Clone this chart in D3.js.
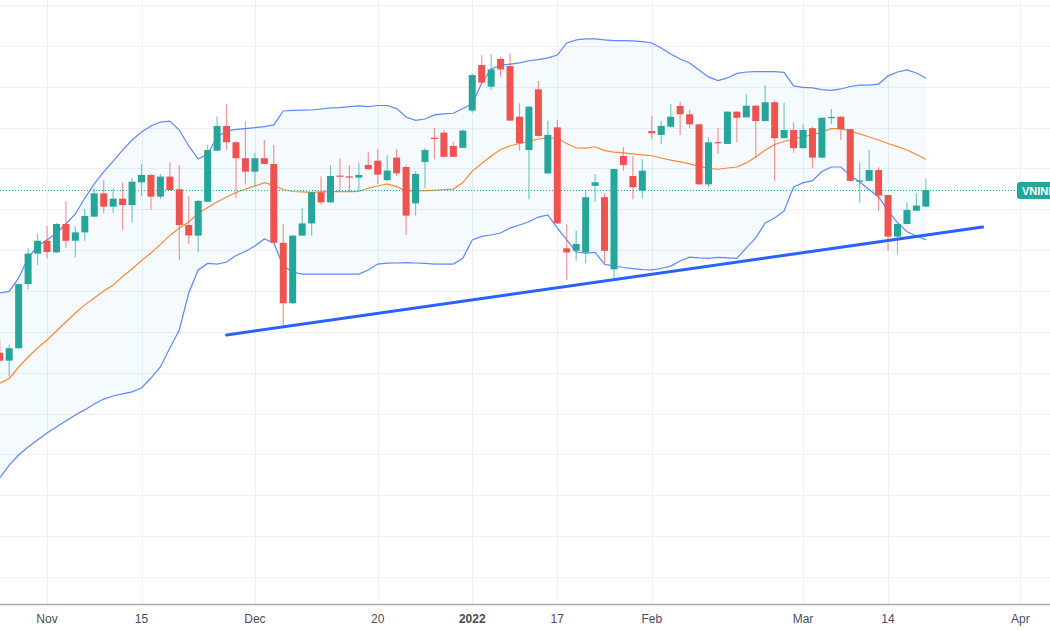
<!DOCTYPE html>
<html>
<head>
<meta charset="utf-8">
<script src="https://cdn.jsdelivr.net/npm/d3@7"></script>
<style>
  html, body { margin: 0; padding: 0; background: #fff; }
  svg { display: block; font-family: "Liberation Sans", Roboto, Arial, sans-serif; }
</style>
</head>
<body>
<svg id="chart" width="1050" height="630"></svg>
<script>
// trading days shown (VNINDEX daily, Oct 25 2021 - Mar 18 2022)
const days = [].concat(
  ['2021-10-25','2021-10-26','2021-10-27','2021-10-28','2021-10-29'],
  ['2021-11-01','2021-11-02','2021-11-03','2021-11-04','2021-11-05','2021-11-08','2021-11-09','2021-11-10','2021-11-11','2021-11-12',
   '2021-11-15','2021-11-16','2021-11-17','2021-11-18','2021-11-19','2021-11-22','2021-11-23','2021-11-24','2021-11-25','2021-11-26',
   '2021-11-29','2021-11-30'],
  ['2021-12-01','2021-12-02','2021-12-03','2021-12-06','2021-12-07','2021-12-08','2021-12-09','2021-12-10','2021-12-13','2021-12-14',
   '2021-12-15','2021-12-16','2021-12-17','2021-12-20','2021-12-21','2021-12-22','2021-12-23','2021-12-24','2021-12-27','2021-12-28',
   '2021-12-29','2021-12-30','2021-12-31'],
  ['2022-01-04','2022-01-05','2022-01-06','2022-01-07','2022-01-10','2022-01-11','2022-01-12','2022-01-13','2022-01-14','2022-01-17',
   '2022-01-18','2022-01-19','2022-01-20','2022-01-21','2022-01-24','2022-01-25','2022-01-26','2022-01-27','2022-01-28'],
  ['2022-02-07','2022-02-08','2022-02-09','2022-02-10','2022-02-11','2022-02-14','2022-02-15','2022-02-16','2022-02-17','2022-02-18',
   '2022-02-21','2022-02-22','2022-02-23','2022-02-24','2022-02-25','2022-02-28'],
  ['2022-03-01','2022-03-02','2022-03-03','2022-03-04','2022-03-07','2022-03-08','2022-03-09','2022-03-10','2022-03-11','2022-03-14',
   '2022-03-15','2022-03-16','2022-03-17','2022-03-18']
)
// empty future sessions on the right side of the time scale
const futureDays = ['2022-03-21','2022-03-22','2022-03-23','2022-03-24','2022-03-25','2022-03-28','2022-03-29','2022-03-30',
  '2022-03-31','2022-04-01','2022-04-04','2022-04-05','2022-04-06','2022-04-07']

const open = [1389.8,1385.9,1392.0,1423.4,1438.3,1444.6,1438.9,1452.8,1444.6,1448.7,
  1456.4,1467.8,1461.3,1465.2,1462.1,1473.2,1476.8,1466.2,1476.0,1469.8,
  1452.3,1447.1,1463.7,1488.7,1500.8,1492.8,1485.0,1478.4,1485.0,1482.2,
  1443.6,1414.0,1447.1,1453.1,1468.3,1463.4,1476.5,1476.1,1475.5,1481.7,
  1483.8,1474.3,1485.3,1480.7,1462.9,1483.2,1495.0,1497.5,1491.0,1490.1,
  1508.3,1530.6,1520.0,1533.6,1530.1,1505.3,1489.0,1518.7,1477.6,1500.1,
  1440.9,1439.7,1438.9,1471.5,1465.9,1430.6,1486.1,1476.3,1469.1,1498.3,
  1496.4,1500.4,1510.6,1506.5,1501.6,1472.2,1492.9,1492.0,1507.8,1505.0,
  1510.7,1503.2,1512.4,1494.8,1498.8,1489.9,1499.7,1485.3,1504.8,1505.3,
  1499.2,1473.9,1473.9,1479.2,1467.0,1446.6,1452.8,1459.3,1461.3]
const high = [1396.0,1393.6,1423.8,1440.9,1447.9,1452.0,1453.3,1464.1,1451.5,1460.1,
  1470.3,1474.3,1470.3,1473.2,1475.2,1482.2,1477.3,1477.3,1483.0,1481.7,
  1466.5,1464.6,1491.5,1505.3,1511.5,1493.4,1503.2,1487.7,1493.9,1491.5,
  1452.8,1447.4,1460.5,1468.5,1476.0,1481.7,1485.0,1481.7,1482.8,1487.9,
  1489.4,1486.3,1489.4,1481.7,1478.7,1489.9,1499.9,1498.8,1493.1,1499.2,
  1526.6,1535.5,1536.0,1534.7,1536.4,1511.9,1510.6,1522.8,1503.4,1503.7,
  1452.7,1449.5,1469.4,1477.1,1467.8,1480.0,1490.4,1486.1,1484.5,1505.7,
  1503.2,1511.5,1512.7,1508.6,1501.8,1495.2,1499.7,1507.9,1507.9,1516.4,
  1511.1,1520.8,1513.2,1512.2,1502.6,1501.6,1500.4,1504.9,1509.1,1505.4,
  1499.3,1483.0,1489.0,1480.6,1467.0,1453.0,1463.2,1467.8,1475.2]
const low = [1385.2,1378.1,1391.6,1420.8,1432.7,1436.0,1438.6,1440.9,1436.5,1444.6,
  1456.2,1458.0,1458.3,1449.9,1453.4,1466.5,1459.7,1465.0,1469.2,1435.2,
  1443.0,1439.0,1463.6,1488.5,1489.0,1465.4,1472.2,1471.1,1481.9,1443.5,
  1401.7,1413.6,1446.9,1447.1,1462.1,1463.3,1469.4,1469.0,1469.0,1479.2,
  1472.4,1473.9,1476.3,1447.4,1456.9,1470.3,1484.5,1485.6,1485.6,1490.0,
  1507.3,1521.8,1518.4,1524.9,1503.2,1488.7,1464.9,1495.6,1477.3,1452.8,
  1425.4,1434.8,1433.6,1463.7,1433.6,1426.2,1478.9,1464.9,1465.4,1494.3,
  1492.0,1499.9,1496.4,1499.7,1472.1,1470.8,1487.1,1491.8,1492.8,1504.9,
  1485.4,1503.1,1474.0,1494.7,1487.7,1489.8,1480.1,1485.1,1501.6,1493.9,
  1473.6,1463.2,1473.7,1459.3,1439.7,1438.0,1452.7,1459.2,1461.1]
const close = [1385.9,1392.0,1423.4,1438.3,1444.6,1439.1,1452.8,1444.6,1448.7,1456.7,
  1467.8,1461.3,1465.2,1462.1,1473.5,1476.8,1466.2,1476.0,1469.4,1452.3,
  1447.2,1464.1,1489.0,1500.8,1492.8,1485.0,1478.4,1485.0,1482.2,1443.6,
  1414.0,1447.1,1453.1,1468.3,1463.4,1476.3,1476.1,1475.6,1476.8,1479.6,
  1477.0,1479.0,1477.6,1456.9,1477.3,1489.0,1494.5,1485.7,1485.7,1498.5,
  1525.7,1522.0,1528.5,1528.5,1503.4,1492.3,1510.2,1495.9,1496.4,1453.1,
  1438.9,1443.0,1465.9,1473.2,1439.7,1479.7,1481.7,1470.8,1478.9,1497.2,
  1500.8,1505.3,1506.5,1501.6,1472.2,1492.8,1492.3,1507.8,1504.8,1510.7,
  1503.2,1512.4,1494.8,1498.8,1489.9,1498.8,1485.3,1504.8,1505.2,1499.2,
  1473.9,1474.1,1479.2,1466.7,1446.6,1452.8,1459.7,1461.8,1469.4]

// Bollinger Bands (20, 2) as drawn
const bbUpper = [1419.0,1419.8,1426.4,1436.2,1442.0,1445.0,1448.4,1452.8,1457.7,1465.5,
  1472.4,1478.3,1483.6,1489.0,1493.9,1497.8,1500.8,1502.7,1503.2,1498.8,
  1491.0,1484.6,1487.0,1495.4,1498.3,1499.1,1499.5,1500.0,1500.5,1501.3,
  1508.1,1508.4,1508.5,1508.6,1509.1,1509.6,1509.8,1510.3,1510.6,1510.3,
  1510.8,1510.8,1509.3,1505.2,1503.5,1504.2,1506.2,1506.7,1507.0,1509.3,
  1511.5,1521.8,1528.7,1530.6,1531.1,1531.7,1532.7,1533.3,1534.1,1535.5,
  1541.4,1542.9,1543.4,1543.4,1542.9,1542.6,1542.6,1542.4,1542.1,1541.4,
  1539.0,1536.0,1533.6,1531.6,1528.2,1524.8,1523.0,1524.3,1526.5,1527.2,
  1527.4,1527.4,1527.4,1527.0,1520.4,1519.7,1519.4,1518.6,1518.2,1518.9,
  1520.1,1520.8,1520.8,1521.3,1525.3,1527.2,1528.2,1526.7,1524.3]
const bbBasis = [1374.8,1377.2,1382.8,1387.7,1392.1,1396.0,1400.4,1404.8,1409.2,1413.2,
  1416.6,1420.0,1422.9,1427.1,1430.8,1434.9,1438.6,1442.8,1447.2,1450.8,
  1453.8,1458.0,1460.9,1463.6,1466.0,1468.2,1469.9,1471.4,1473.0,1471.7,
  1469.7,1468.7,1468.5,1468.3,1468.5,1468.6,1468.6,1468.6,1468.7,1470.4,
  1471.4,1472.4,1471.1,1469.1,1469.0,1469.1,1469.3,1469.6,1469.9,1473.1,
  1478.7,1482.4,1486.1,1489.3,1491.1,1492.2,1493.4,1494.4,1494.9,1494.9,
  1492.2,1490.0,1489.9,1490.6,1488.7,1488.0,1487.6,1487.1,1486.6,1486.2,
  1485.1,1484.1,1483.2,1482.2,1481.0,1480.0,1479.6,1480.2,1480.7,1482.7,
  1485.6,1489.0,1491.7,1493.2,1494.4,1495.4,1496.6,1497.8,1499.5,1499.5,
  1498.3,1496.9,1495.4,1493.9,1492.2,1490.7,1489.0,1486.8,1484.5]
const bbLower = [1328.5,1334.8,1339.7,1343.6,1347.1,1350.5,1353.4,1356.4,1359.3,1361.8,
  1364.7,1367.1,1368.6,1369.6,1370.6,1372.5,1377.4,1382.8,1392.1,1400.9,
  1419.0,1430.3,1433.5,1433.2,1434.2,1437.4,1439.3,1442.0,1445.5,1443.5,
  1432.2,1429.3,1428.3,1428.3,1428.3,1428.3,1428.3,1428.3,1428.3,1430.3,
  1433.2,1433.6,1433.7,1433.9,1433.7,1433.5,1433.2,1433.2,1433.2,1436.0,
  1445.0,1446.7,1447.4,1448.4,1450.8,1452.3,1453.9,1456.2,1457.2,1450.8,
  1445.0,1439.1,1438.5,1438.9,1433.1,1432.2,1431.5,1431.0,1430.5,1430.3,
  1431.0,1432.2,1434.7,1436.6,1436.2,1436.0,1436.5,1436.2,1436.0,1441.1,
  1446.0,1453.3,1455.7,1459.2,1470.9,1472.9,1474.0,1478.5,1480.7,1480.7,
  1476.5,1473.4,1469.7,1466.0,1459.2,1453.5,1449.0,1446.9,1445.0]

// hand-drawn support line
const trendDates = ['2021-11-26', '2022-03-28']
const trendPrices = [1398.5, 1451.3]

const tickDates = ['2021-11-01','2021-11-15','2021-12-01','2021-12-20','2022-01-04','2022-01-17','2022-02-07','2022-03-01','2022-03-14','2022-04-01']
const tickLabels = ['Nov','15','Dec','20','2022','17','Feb','Mar','14','Apr']

const symbol = 'VNINDEX'

const W = 1050, H = 630
const axisY = 604.5
const barStep = 9.45
const firstX = -0.25
const bodyW = 7
const up = '#26a69a', down = '#ef5350'

const allDays = days.concat(futureDays)
const x = d3.scalePoint()
  .domain(allDays)
  .range([firstX, firstX + barStep * (allDays.length - 1)])
const y = d3.scaleLinear().domain([1280, 1560]).range([577, 5])

const svg = d3.select('#chart')

// grid
const grid = svg.append('g')
grid.selectAll('line.h')
  .data(d3.range(1280, 1561, 20))
  .join('line')
  .attr('x1', 0).attr('x2', W)
  .attr('y1', d => Math.round(y(d)) + 0.5)
  .attr('y2', d => Math.round(y(d)) + 0.5)
  .attr('stroke', '#edf1f7')
grid.selectAll('line.v')
  .data(tickDates)
  .join('line')
  .attr('x1', d => Math.round(x(d)) + 0.5)
  .attr('x2', d => Math.round(x(d)) + 0.5)
  .attr('y1', 0).attr('y2', axisY)
  .attr('stroke', '#edf1f7')

const rows = days.map((d, i) => ({
  date: d, o: open[i], h: high[i], l: low[i], c: close[i],
  up: bbUpper[i], mid: bbBasis[i], lo: bbLower[i]
}))

// band fill
svg.append('path')
  .datum(rows)
  .attr('fill', 'rgba(33,150,243,0.05)')
  .attr('d', d3.area().x(d => x(d.date)).y0(d => y(d.lo)).y1(d => y(d.up)))

const line = key => d3.line().x(d => x(d.date)).y(d => y(d[key]))
svg.append('path').datum(rows).attr('fill', 'none')
  .attr('stroke', '#2962ff').attr('stroke-opacity', 0.75).attr('stroke-width', 1.2)
  .attr('d', line('up'))
svg.append('path').datum(rows).attr('fill', 'none')
  .attr('stroke', '#2962ff').attr('stroke-opacity', 0.75).attr('stroke-width', 1.2)
  .attr('d', line('lo'))
svg.append('path').datum(rows).attr('fill', 'none')
  .attr('stroke', '#ff6d00').attr('stroke-opacity', 0.8).attr('stroke-width', 1.2)
  .attr('d', line('mid'))

// last price line
const last = close[close.length - 1]
svg.append('line')
  .attr('x1', 0).attr('x2', 1017)
  .attr('y1', Math.round(y(last)) + 0.5).attr('y2', Math.round(y(last)) + 0.5)
  .attr('stroke', up).attr('stroke-width', 1)
  .attr('stroke-dasharray', '1,2')

// candles
const candles = svg.append('g').selectAll('g')
  .data(rows)
  .join('g')
candles.append('line')
  .attr('x1', d => x(d.date)).attr('x2', d => x(d.date))
  .attr('y1', d => y(d.h)).attr('y2', d => y(d.l))
  .attr('stroke', d => d.c >= d.o ? up : down)
  .attr('stroke-opacity', 0.6)
  .attr('stroke-width', 1.2)
candles.append('rect')
  .attr('x', d => x(d.date) - bodyW / 2)
  .attr('width', bodyW)
  .attr('y', d => y(Math.max(d.o, d.c)))
  .attr('height', d => Math.max(1.2, Math.abs(y(d.o) - y(d.c))))
  .attr('fill', d => d.c >= d.o ? up : down)

// trendline
svg.append('line')
  .attr('x1', x(trendDates[0])).attr('y1', y(trendPrices[0]))
  .attr('x2', x(trendDates[1])).attr('y2', y(trendPrices[1]))
  .attr('stroke', '#2962ff').attr('stroke-width', 3)
  .attr('stroke-linecap', 'round')

// time axis
svg.append('rect').attr('x', 0).attr('y', axisY).attr('width', W).attr('height', H - axisY).attr('fill', '#fff')
svg.append('line')
  .attr('x1', 0).attr('x2', W).attr('y1', axisY).attr('y2', axisY)
  .attr('stroke', '#a9acb5').attr('stroke-width', 1.5)
svg.append('g').selectAll('text')
  .data(tickDates)
  .join('text')
  .attr('x', d => x(d))
  .attr('y', 623)
  .attr('text-anchor', 'middle')
  .attr('font-size', 12)
  .attr('fill', '#4a4d57')
  .attr('font-weight', (d, i) => tickLabels[i] === '2022' ? 'bold' : 'normal')
  .text((d, i) => tickLabels[i])

// symbol price label (cut by the right edge)
const lab = svg.append('g').attr('transform', `translate(1017,${Math.round(y(last)) - 8})`)
lab.append('rect').attr('width', 50).attr('height', 17).attr('rx', 3).attr('fill', up)
lab.append('text').attr('x', 5).attr('y', 12.5)
  .attr('font-size', 11).attr('font-weight', 'bold').attr('fill', '#fff')
  .text(symbol)
</script>
</body>
</html>
